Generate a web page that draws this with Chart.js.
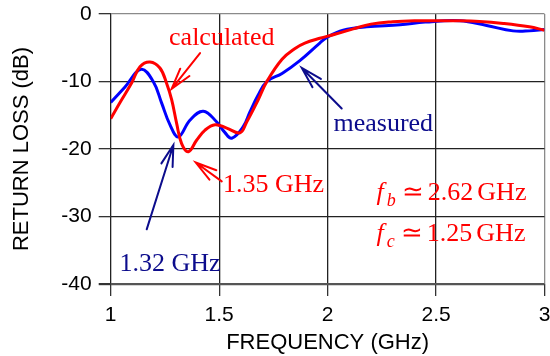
<!DOCTYPE html>
<html>
<head>
<meta charset="utf-8">
<script src="https://cdn.jsdelivr.net/npm/chart.js@4/dist/chart.umd.min.js"></script>
<style>
  html, body { margin: 0; padding: 0; background: #fff; }
  #wrap { width: 550px; height: 356px; }
</style>
</head>
<body>
<div id="wrap"><canvas id="rl" width="550" height="356"></canvas></div>
<script>
// Return loss vs frequency: calculated and measured responses
const freqCalc = [1.00, 1.045, 1.097, 1.135, 1.181, 1.227, 1.258, 1.281, 1.304, 1.327, 1.358, 1.396, 1.435, 1.481, 1.535, 1.596, 1.627, 1.68, 1.72, 1.79, 1.85, 1.895, 1.964, 2.034, 2.118, 2.2, 2.3, 2.40, 2.5, 2.6, 2.7, 2.81, 2.93, 3.0];
const rlCalc   = [-15.5, -13.0, -10.2, -7.8, -7.1, -8.0, -10.3, -12.7, -16.2, -19.2, -20.4, -18.7, -17.2, -16.4, -16.9, -17.6, -16.0, -12.7, -10.0, -6.7, -5.1, -4.3, -3.6, -3.0, -2.2, -1.5, -1.15, -1.0, -1.0, -1.0, -1.1, -1.4, -1.9, -2.4];

const freqMeas = [1.00, 1.066, 1.14, 1.196, 1.235, 1.273, 1.312, 1.366, 1.427, 1.489, 1.525, 1.558, 1.611, 1.642, 1.68, 1.72, 1.79, 1.872, 1.964, 2.0, 2.072, 2.18, 2.334, 2.45, 2.61, 2.733, 2.855, 2.93, 3.0];
const rlMeas   = [-13.1, -10.8, -8.2, -10.0, -13.2, -16.4, -18.2, -15.7, -14.4, -16.0, -17.5, -18.4, -16.7, -14.5, -12.0, -10.0, -8.8, -6.9, -4.3, -3.4, -2.4, -1.9, -1.6, -1.2, -1.0, -1.7, -2.5, -2.5, -2.3];

const xTicks = [1, 1.5, 2, 2.5, 3];
const yTicks = [0, -10, -20, -30, -40];
const xTickLabels = ['1', '1.5', '2', '2.5', '3'];
const yTickLabels = ['0', '-10', '-20', '-30', '-40'];

const RED = '#ff0000';
const NAVY = '#0c0c8c';
const SERIF = '"Liberation Serif", "Times New Roman", serif';
const SANS = '"Liberation Sans", Arial, sans-serif';

function pts(xs, ys) { return xs.map((x, i) => ({ x: x, y: ys[i] })); }

// Callouts, placed in data units (GHz, dB)
const callouts = [
  { text: 'calculated', color: RED,  at: [1.269, -4.6],  tail: [1.412, -5.8],  tip: [1.281, -11.1] },
  { text: 'measured',   color: NAVY, at: [2.027, -17.4], tail: [2.065, -14.0], tip: [1.881, -8.0] },
  { text: '1.35 GHz',   color: RED,  at: [1.518, -26.3], tail: [1.512, -24.8], tip: [1.392, -22.0] },
  { text: '1.32 GHz',   color: NAVY, at: [1.040, -38.1], tail: [1.166, -31.9], tip: [1.289, -19.4] }
];
const bandNotes = [
  { sub: 'b', value: '2.62', at: [2.226, -27.5] },
  { sub: 'c', value: '1.25', at: [2.226, -33.7] }
];

function arrow(ctx, x0, y0, x1, y1, color) {
  const ang = Math.atan2(y0 - y1, x0 - x1);
  const len = 22, spread = 0.27;
  ctx.save();
  ctx.strokeStyle = color;
  ctx.lineWidth = 2;
  ctx.lineCap = 'round';
  ctx.beginPath();
  ctx.moveTo(x0, y0); ctx.lineTo(x1, y1);
  ctx.moveTo(x1 + len * Math.cos(ang + spread), y1 + len * Math.sin(ang + spread));
  ctx.lineTo(x1, y1);
  ctx.lineTo(x1 + len * Math.cos(ang - spread), y1 + len * Math.sin(ang - spread));
  ctx.stroke();
  ctx.restore();
}

const annotations = {
  id: 'annotations',
  afterDatasetsDraw(chart) {
    const { ctx } = chart;
    const sx = chart.scales.x, sy = chart.scales.y;
    const P = (p) => [sx.getPixelForValue(p[0]), sy.getPixelForValue(p[1])];
    ctx.save();
    ctx.textBaseline = 'alphabetic';
    ctx.textAlign = 'left';
    callouts.forEach(c => {
      const [tx, ty] = P(c.tail), [hx, hy] = P(c.tip), [lx, ly] = P(c.at);
      arrow(ctx, tx, ty, hx, hy, c.color);
      ctx.fillStyle = c.color;
      ctx.font = '26px ' + SERIF;
      ctx.fillText(c.text, lx, ly);
    });
    bandNotes.forEach(n => {
      let [x, y] = P(n.at);
      ctx.fillStyle = RED;
      ctx.font = 'italic 26px ' + SERIF;
      ctx.fillText('f', x, y);
      x += ctx.measureText('f').width + 3;
      ctx.font = 'italic 18px ' + SERIF;
      ctx.fillText(n.sub, x, y + 6);
      x += ctx.measureText(n.sub).width + 6;
      ctx.font = '26px ' + SERIF;
      ctx.fillText('\u2243', x, y);
      x += ctx.measureText('\u2243').width + 4;
      ctx.fillText(n.value, x, y);
      x += ctx.measureText(n.value).width + 4;
      ctx.fillText('GHz', x, y);
    });
    ctx.restore();
  }
};

new Chart(document.getElementById('rl'), {
  type: 'line',
  data: {
    datasets: [
      { label: 'calculated', data: pts(freqCalc, rlCalc), borderColor: RED, borderWidth: 3,
        pointRadius: 0, tension: 0.4, fill: false },
      { label: 'measured', data: pts(freqMeas, rlMeas), borderColor: '#0000ff', borderWidth: 3,
        pointRadius: 0, tension: 0.4, fill: false }
    ]
  },
  options: {
    responsive: false,
    animation: false,
    events: [],
    layout: { padding: { top: 14, right: 5.5, left: 0, bottom: 0 } },
    plugins: { legend: { display: false }, tooltip: { enabled: false } },
    scales: {
      x: {
        type: 'linear', min: 1, max: 3,
        afterBuildTicks(s) { s.ticks = xTicks.map(v => ({ value: v })); },
        afterFit(s) { s.height = 72; s.paddingLeft = 0; s.paddingRight = 0; },
        border: { display: false },
        grid: {
          color: (c) => c.tick && c.tick.value === 3 ? '#8a8a8a' : '#222',
          lineWidth: 1.3, tickLength: 12, tickColor: '#333'
        },
        ticks: {
          padding: 7, color: '#000', maxRotation: 0,
          font: { family: SANS, size: 21 },
          callback: (v) => xTickLabels[xTicks.indexOf(v)]
        },
        title: { display: true, text: 'FREQUENCY (GHz)', color: '#000',
          font: { family: SANS, size: 22 }, padding: { top: 0, bottom: 0 } }
      },
      y: {
        type: 'linear', min: -40, max: 0,
        afterBuildTicks(s) { s.ticks = yTicks.map(v => ({ value: v })); },
        afterFit(s) { s.width = 110.7; s.paddingTop = 0; s.paddingBottom = 0; },
        border: { display: false },
        grid: {
          color: (c) => {
            if (!c.tick) return '#222';
            if (c.tick.value === 0) return '#8a8a8a';
            if (c.tick.value === -40) return '#555';
            return '#222';
          },
          lineWidth: (c) => c.tick && c.tick.value === -40 ? 2.2 : 1.3,
          tickLength: 12, tickColor: '#333'
        },
        ticks: {
          padding: 7, color: '#000',
          font: { family: SANS, size: 21 },
          callback: (v) => yTickLabels[yTicks.indexOf(v)]
        },
        title: { display: true, text: 'RETURN LOSS (dB)', color: '#000',
          font: { family: SANS, size: 22 }, padding: { top: 9, bottom: 0 } }
      }
    }
  },
  plugins: [annotations]
});
</script>
</body>
</html>
